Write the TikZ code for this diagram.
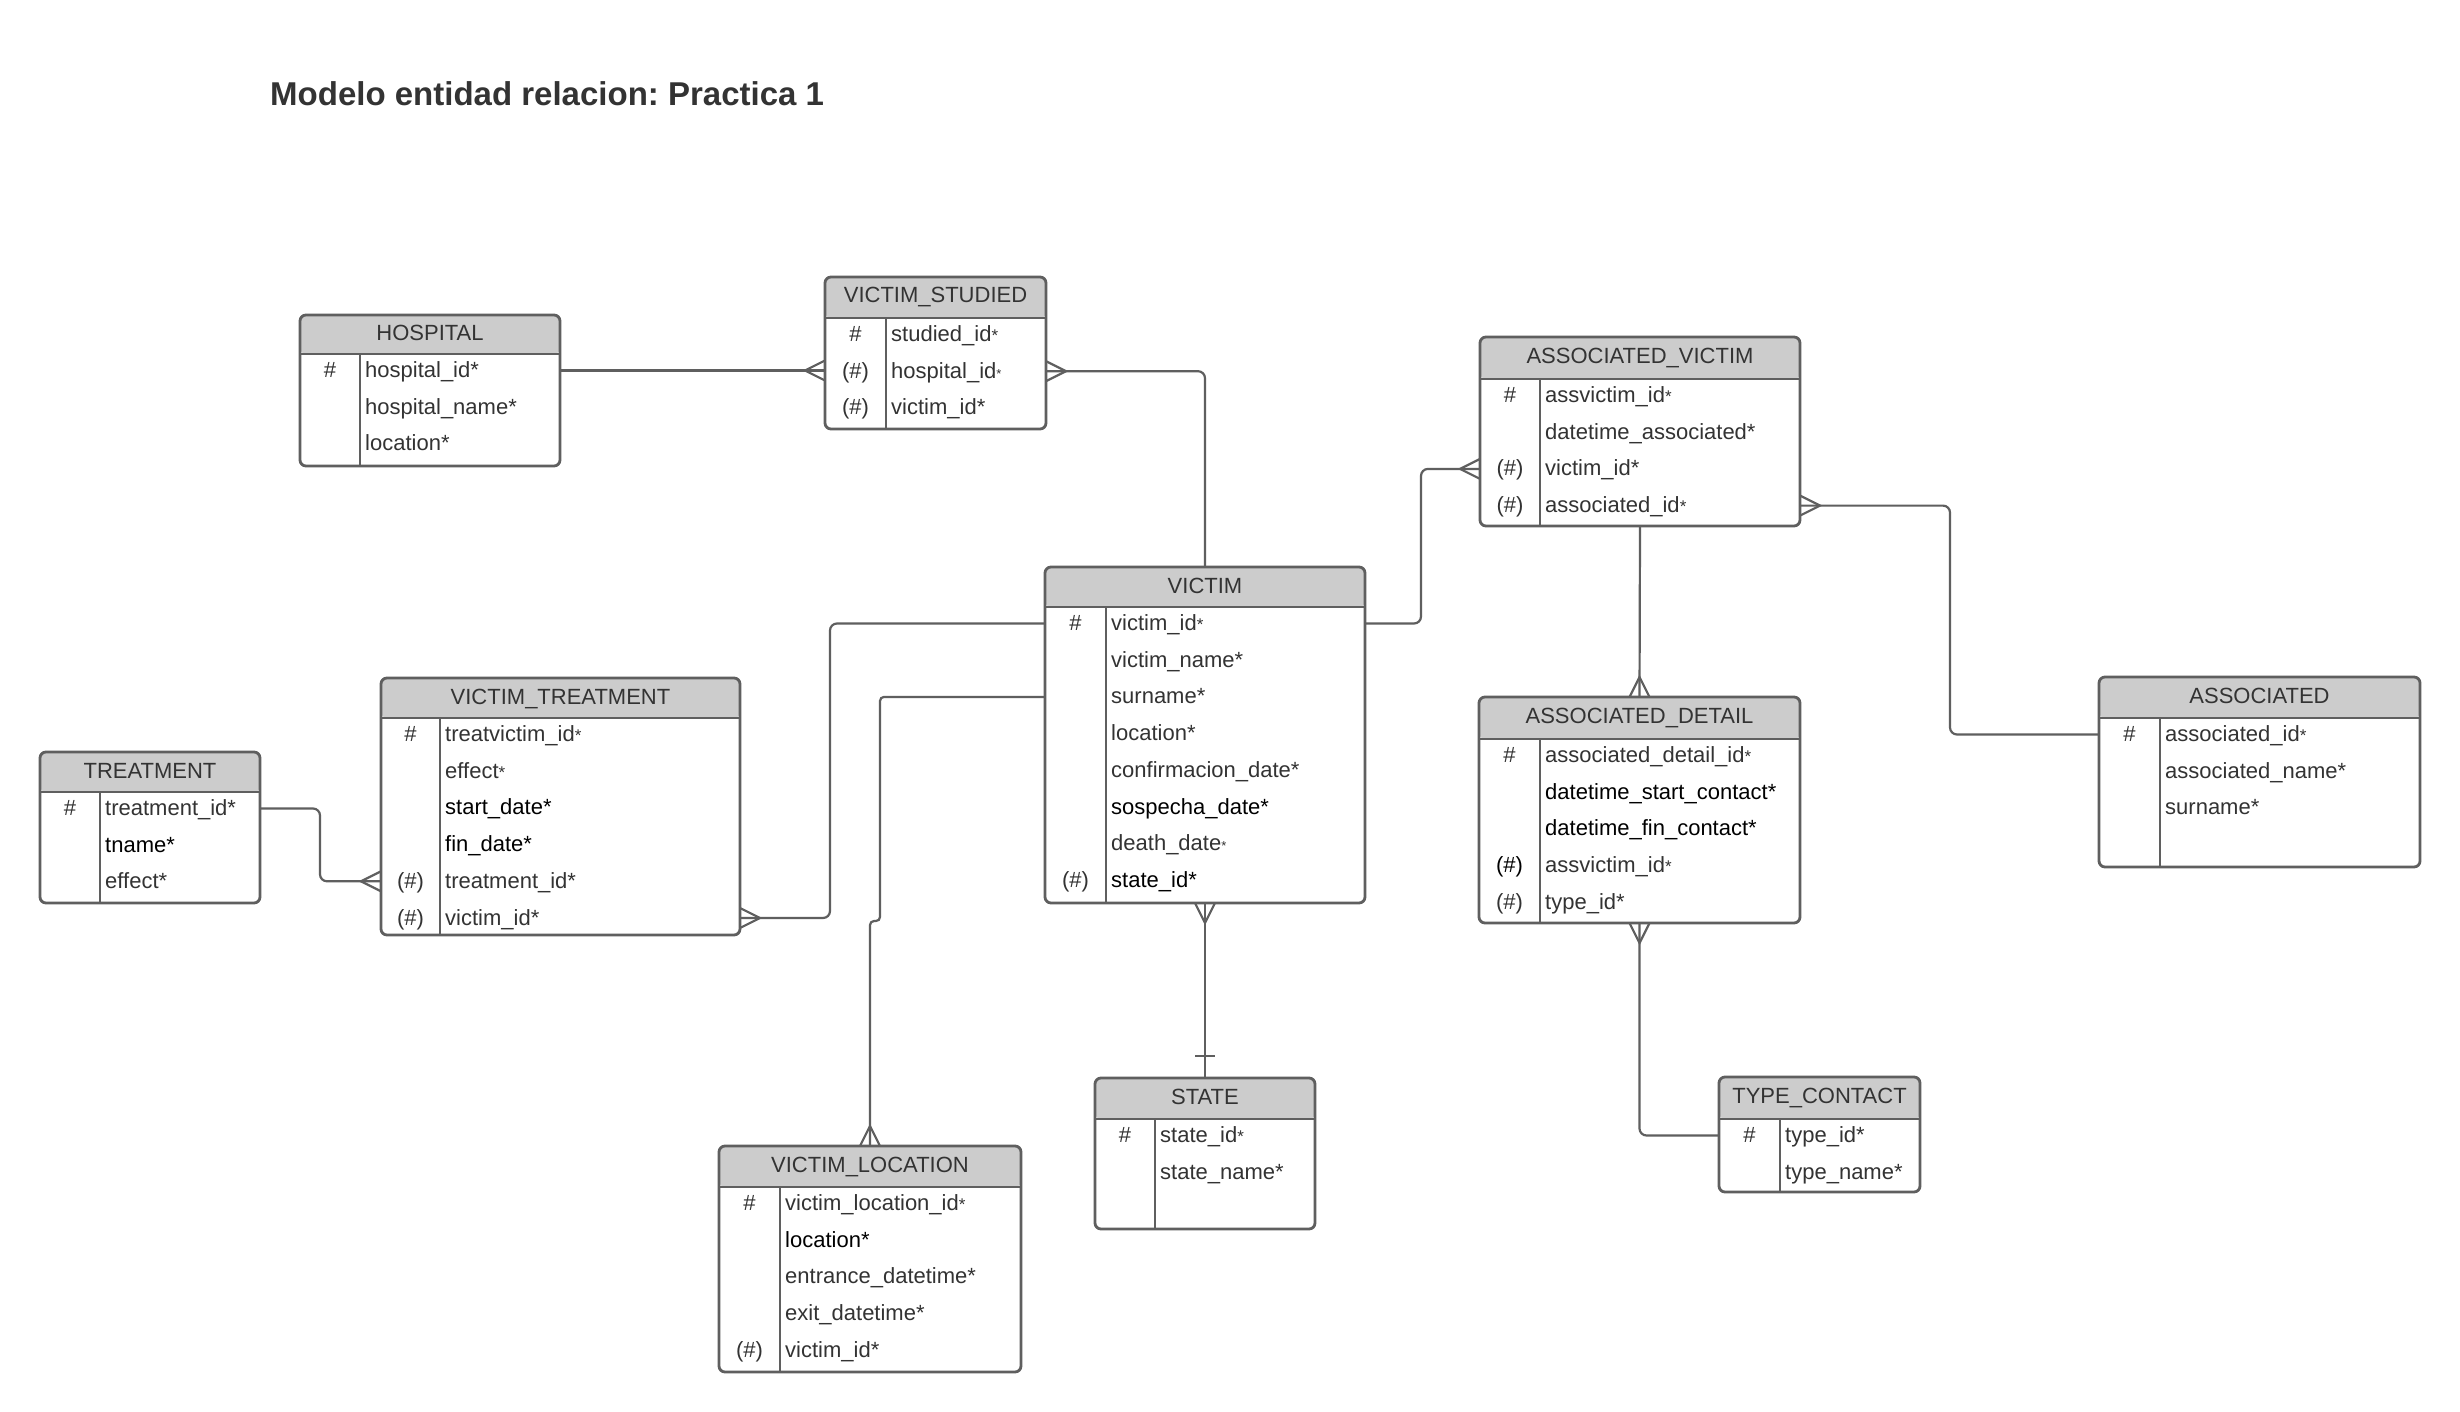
\documentclass[tikz,border=0pt]{standalone}
\usepackage{fontspec}
\setmainfont{Liberation Sans}
\usetikzlibrary{calc}
\frenchspacing
\definecolor{ln}{HTML}{5F5F5F}
\definecolor{hdr}{HTML}{CCCCCC}
\definecolor{tx}{HTML}{333333}
\tikzset{
  entbox/.style={draw=ln, line width=2.8pt, rounded corners=6pt, fill=white, inner sep=0pt, outer sep=0pt},
  entline/.style={draw=ln, line width=2.8pt},
  conn/.style={draw=ln, line width=2.2pt, rounded corners=7pt},
  foot/.style={draw=ln, line width=2.2pt},
  hdrtext/.style={font=\fontsize{22}{25}\selectfont, text=tx, inner sep=0pt},
  attrtext/.style={font=\fontsize{22}{25}\selectfont, text=tx, inner sep=0pt},
  keytext/.style={font=\fontsize{22}{25}\selectfont, text=tx, inner sep=0pt},
  titletext/.style={font=\bfseries\fontsize{33}{38}\selectfont, text=tx, inner sep=0pt},
}
\newcommand\sa{{\fontsize{17}{17}\selectfont *}}
\newcommand\ta{{\fontsize{13}{13}\selectfont *}}
\newcommand\bk[1]{\textcolor{black}{#1}}

\newcommand\ent[8]{% id, L, T, R, B, HB, DIV, title
  \pgfmathsetmacro\eW{#4-#2}%
  \pgfmathsetmacro\eH{#5-#3}%
  \pgfmathsetmacro\eHH{#6-#3}%
  \pgfmathsetmacro\eKX{(#2+#7)/2}%
  \pgfmathsetmacro\eTX{#7+5}%
  \def\eHB{#6}\def\eL{#2}%
  \node[entbox, anchor=north west, minimum width=\eW pt, minimum height=\eH pt,
    path picture={\fill[hdr] (path picture bounding box.north west) rectangle ([yshift=-\eHH pt]path picture bounding box.north east);}] (#1) at (#2,#3) {};
  \draw[entline] (#2,#6) -- (#4,#6);
  \draw[entline] (#7,#6) -- (#7,#5);
  \node[hdrtext, anchor=base] (#1-t) at ({(#2+#4)/2},{#3+26}) {#8};
}
\newcommand\erow[4]{% id, n, key, text
  \pgfmathsetmacro\eY{\eHB+16.5+36.7*(#2-1)}%
  \coordinate (#1-y#2) at (\eL,\eY);
  \if\relax\detokenize{#3}\relax\else
    \node[keytext, anchor=base] (#1-k#2) at (\eKX,{\eY+7}) {#3};
  \fi
  \node[attrtext, anchor=base west] (#1-r#2) at (\eTX,{\eY+7}) {#4};
}
\newcommand\cfW[2]{\coordinate (#1) at (#2); \draw[foot] ($(#1)+(0,-10)$) -- ($(#1)+(-20,0)$) -- ($(#1)+(0,10)$);}
\newcommand\cfE[2]{\coordinate (#1) at (#2); \draw[foot] ($(#1)+(0,-10)$) -- ($(#1)+(20,0)$) -- ($(#1)+(0,10)$);}
\newcommand\cfN[2]{\coordinate (#1) at (#2); \draw[foot] ($(#1)+(-10,0)$) -- ($(#1)+(0,-20)$) -- ($(#1)+(10,0)$);}
\newcommand\cfS[2]{\coordinate (#1) at (#2); \draw[foot] ($(#1)+(-10,0)$) -- ($(#1)+(0,20)$) -- ($(#1)+(10,0)$);}

\begin{document}
\begin{tikzpicture}[x=1pt,y=-1pt]
\useasboundingbox (0,0) rectangle (2460,1412);
\fill[white] (0,0) rectangle (2460,1412);

\node[titletext, anchor=base west] (title) at (270,106) {Modelo entidad relacion: Practica 1};

% HOSPITAL
\ent{hosp}{300}{315}{560}{466}{354}{360}{HOSPITAL}
\erow{hosp}{1}{\#}{hospital\_id*}
\erow{hosp}{2}{}{hospital\_name*}
\erow{hosp}{3}{}{location*}

% VICTIM_STUDIED
\ent{vstud}{825}{277}{1046}{429}{318}{886}{VICTIM\_STUDIED}
\erow{vstud}{1}{\#}{studied\_id\sa}
\erow{vstud}{2}{(\#)}{hospital\_id\ta}
\erow{vstud}{3}{(\#)}{victim\_id*}

% ASSOCIATED_VICTIM
\ent{avict}{1480}{337}{1800}{526}{379}{1540}{ASSOCIATED\_VICTIM}
\erow{avict}{1}{\#}{assvictim\_id\sa}
\erow{avict}{2}{}{datetime\_associated*}
\erow{avict}{3}{(\#)}{victim\_id*}
\erow{avict}{4}{(\#)}{associated\_id\sa}

% VICTIM
\ent{victim}{1045}{567}{1365}{903}{607}{1106}{VICTIM}
\erow{victim}{1}{\#}{victim\_id\sa}
\erow{victim}{2}{}{victim\_name*}
\erow{victim}{3}{}{surname*}
\erow{victim}{4}{}{location*}
\erow{victim}{5}{}{confirmacion\_date*}
\erow{victim}{6}{}{\bk{sospecha\_date*}}
\erow{victim}{7}{}{death\_date\ta}
\erow{victim}{8}{(\#)}{\bk{state\_id*}}

% VICTIM_TREATMENT
\ent{vtreat}{381}{678}{740}{935}{718}{440}{VICTIM\_TREATMENT}
\erow{vtreat}{1}{\#}{treatvictim\_id\sa}
\erow{vtreat}{2}{}{effect\sa}
\erow{vtreat}{3}{}{\bk{start\_date*}}
\erow{vtreat}{4}{}{\bk{fin\_date*}}
\erow{vtreat}{5}{(\#)}{treatment\_id*}
\erow{vtreat}{6}{(\#)}{victim\_id*}

% TREATMENT
\ent{treat}{40}{752}{260}{903}{792}{100}{TREATMENT}
\erow{treat}{1}{\#}{treatment\_id*}
\erow{treat}{2}{}{\bk{tname*}}
\erow{treat}{3}{}{effect*}

% ASSOCIATED_DETAIL
\ent{adet}{1479}{697}{1800}{923}{739}{1540}{ASSOCIATED\_DETAIL}
\erow{adet}{1}{\#}{associated\_detail\_id\sa}
\erow{adet}{2}{}{\bk{datetime\_start\_contact*}}
\erow{adet}{3}{}{\bk{datetime\_fin\_contact*}}
\erow{adet}{4}{\bk{(\#)}}{assvictim\_id\sa}
\erow{adet}{5}{(\#)}{type\_id*}

% ASSOCIATED
\ent{assoc}{2099}{677}{2420}{867}{718}{2160}{ASSOCIATED}
\erow{assoc}{1}{\#}{associated\_id\sa}
\erow{assoc}{2}{}{associated\_name*}
\erow{assoc}{3}{}{surname*}

% STATE
\ent{state}{1095}{1078}{1315}{1229}{1119}{1155}{STATE}
\erow{state}{1}{\#}{state\_id\sa}
\erow{state}{2}{}{state\_name*}

% TYPE_CONTACT
\ent{tcont}{1719}{1077}{1920}{1192}{1119}{1780}{TYPE\_CONTACT}
\erow{tcont}{1}{\#}{type\_id*}
\erow{tcont}{2}{}{type\_name*}

% VICTIM_LOCATION
\ent{vloc}{719}{1146}{1021}{1372}{1187}{780}{VICTIM\_LOCATION}
\erow{vloc}{1}{\#}{victim\_location\_id\sa}
\erow{vloc}{2}{}{\bk{location*}}
\erow{vloc}{3}{}{entrance\_datetime*}
\erow{vloc}{4}{}{exit\_datetime*}
\erow{vloc}{5}{(\#)}{victim\_id*}

% connectors
\draw[conn] (hosp.east |- hosp-y1) -- (vstud.west |- hosp-y1);
\cfW{f1}{vstud.west |- hosp-y1}

\draw[conn] (vstud.east |- vstud-y2) -| (victim.north);
\cfE{f2}{vstud.east |- vstud-y2}

\coordinate (b3) at (1421,0);
\draw[conn] (victim.east |- victim-y1) -| (b3 |- avict-y3) -- (avict.west |- avict-y3);
\cfW{f3}{avict.west |- avict-y3}

\coordinate (b4) at (1950,0);
\draw[conn] (avict.east |- avict-y4) -| (b4 |- assoc-y1) -- (assoc.west |- assoc-y1);
\cfE{f4}{avict.east |- avict-y4}

\draw[conn] (avict.south) -- (adet.north);
\cfN{f5}{adet.north}

\draw[conn] (adet.south) |- (tcont.west |- tcont-y1);
\cfS{f6}{adet.south}

\draw[conn] (victim.south) -- (state.north);
\cfS{f7}{victim.south}
\draw[foot] ($(state.north)+(-10,-22)$) -- ($(state.north)+(10,-22)$);

\coordinate (b8) at (830,0);
\draw[conn] (victim.west |- victim-y1) -| (b8 |- vtreat-y6) -- (vtreat.east |- vtreat-y6);
\cfE{f8}{vtreat.east |- vtreat-y6}

\coordinate (b9) at (880,921);
\draw[conn, rounded corners=4pt] (victim.west |- victim-y3) -| (b9) -- (vloc.north |- b9) -- (vloc.north);
\cfN{f9}{vloc.north}

\coordinate (b10) at (320,0);
\draw[conn] (treat.east |- treat-y1) -| (b10 |- vtreat-y5) -- (vtreat.west |- vtreat-y5);
\cfW{f10}{vtreat.west |- vtreat-y5}
\end{tikzpicture}
\end{document}
